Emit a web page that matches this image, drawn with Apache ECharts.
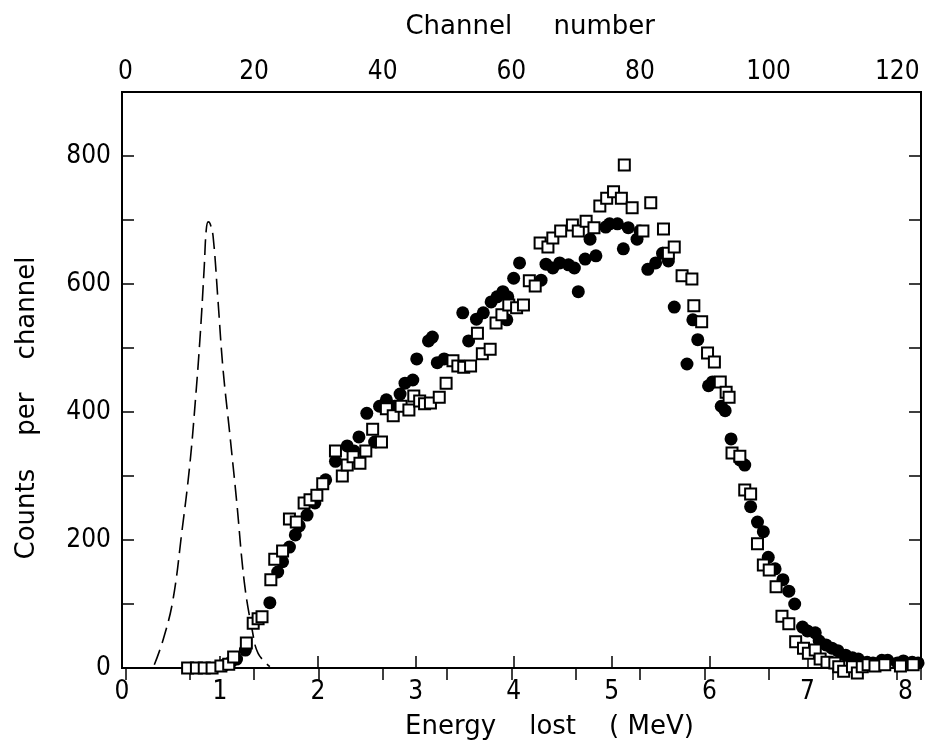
<!DOCTYPE html>
<html><head><meta charset="utf-8">
<script src="https://cdn.jsdelivr.net/npm/echarts@6/dist/echarts.min.js"></script>
<style>html,body{margin:0;padding:0;background:#fff}#c{width:927px;height:747px}</style>
</head><body><div id="c"></div>
<script>
// Filled circles
const filledE = [1.05,1.11,1.17,1.26,1.51,1.59,1.64,1.71,1.77,1.81,1.89,1.97,2.08,2.18,2.30,2.37,2.42,2.50,2.58,2.63,2.70,2.78,2.84,2.89,2.97,3.01,3.13,3.17,3.22,3.29,3.48,3.54,3.62,3.69,3.77,3.83,3.89,3.93,3.94,4.00,4.06,4.28,4.33,4.40,4.47,4.56,4.62,4.66,4.73,4.78,4.84,4.94,4.98,5.06,5.12,5.17,5.26,5.29,5.37,5.45,5.52,5.58,5.64,5.77,5.83,5.88,5.99,6.03,6.12,6.16,6.22,6.31,6.36,6.42,6.49,6.55,6.60,6.67,6.75,6.81,6.87,6.95,7.00,7.08,7.12,7.19,7.25,7.31,7.39,7.46,7.52,7.61,7.67,7.76,7.82,7.92,7.98,8.07,8.13];
const filledC = [5,9,14,28,102,150,166,189,208,222,239,258,294,323,347,339,361,398,353,409,419,409,428,445,450,483,511,517,477,483,555,511,545,555,572,580,588,544,580,609,633,606,631,625,633,630,625,588,639,670,644,689,694,694,655,688,670,683,623,633,648,636,564,475,544,513,441,447,409,402,358,325,317,252,228,213,173,155,138,120,100,64,58,55,42,36,31,27,20,16,14,9,8,12,12,8,11,9,8];
// Open squares
const squareE = [0.67,0.76,0.84,0.92,1.01,1.09,1.14,1.27,1.34,1.39,1.43,1.52,1.56,1.64,1.71,1.78,1.86,1.92,1.99,2.05,2.18,2.25,2.30,2.36,2.43,2.49,2.56,2.65,2.70,2.77,2.85,2.93,2.98,3.04,3.09,3.15,3.24,3.31,3.38,3.43,3.49,3.56,3.63,3.68,3.76,3.82,3.88,3.95,4.03,4.10,4.16,4.22,4.27,4.35,4.40,4.48,4.60,4.66,4.74,4.82,4.88,4.95,5.02,5.10,5.13,5.21,5.32,5.40,5.53,5.58,5.64,5.72,5.82,5.84,5.92,5.98,6.05,6.11,6.17,6.20,6.23,6.31,6.36,6.42,6.49,6.55,6.61,6.68,6.74,6.81,6.88,6.96,7.01,7.08,7.13,7.20,7.28,7.32,7.37,7.46,7.51,7.56,7.62,7.69,7.79,7.95,8.08];
const squareC = [0,0,0,0,3,6,17,39,70,77,80,138,170,183,233,228,258,263,270,288,339,300,317,330,320,339,373,353,405,394,409,403,425,417,413,414,423,445,480,472,470,472,523,491,498,539,552,567,563,567,605,597,664,658,672,683,692,683,698,688,722,734,744,734,786,719,683,727,686,648,658,613,608,566,541,492,478,447,431,423,336,331,278,272,194,161,153,127,81,69,41,31,23,28,14,9,8,2,-5,2,-8,2,5,3,5,3,5];
// Dashed peak curve
const dashE = [0.33,0.42,0.52,0.61,0.69,0.75,0.80,0.84,0.86,0.88,0.90,0.93,0.98,1.03,1.10,1.17,1.25,1.33,1.39,1.51];
const dashC = [5,44,106,211,314,419,523,627,684,697,694,675,575,470,367,262,133,59,23,2];
// Axis titles
const xTitle = 'Energy    lost    ( MeV)';
const yTitle = 'Counts    per    channel';
const topTitle = 'Channel     number';

const zip = (a, b) => a.map((v, i) => [v, b[i]]);
const NUMFONT = '"DejaVu Sans Condensed", "DejaVu Sans", sans-serif';
const TFONT = '"DejaVu Sans", sans-serif';
const chart = echarts.init(document.getElementById('c'), null, {renderer: 'canvas'});
const tickStyle = {show: true, inside: true, length: 12, lineStyle: {color: '#000', width: 1.5}};
const lineStyle = {show: true, lineStyle: {color: '#000', width: 2}};
const numLabel = {color: '#000', fontSize: 26, fontFamily: NUMFONT};
const titleStyle = {color: '#000', fontSize: 26, fontFamily: TFONT};
chart.setOption({
  animation: false,
  backgroundColor: '#fff',
  grid: [
    {left: 122, right: 6, top: 92, bottom: 79, show: true, borderColor: '#000', borderWidth: 2},
    {left: 125.4, right: 6, top: 92, bottom: 79, show: false}
  ],
  xAxis: [
    {type: 'value', gridIndex: 0, min: 0, max: 8.16, interval: 1, position: 'bottom',
     axisLine: lineStyle, axisTick: tickStyle, splitLine: {show: false},
     axisLabel: Object.assign({margin: 11,
       formatter: v => (Math.abs(v - Math.round(v)) < 1e-6 ? String(Math.round(v)) : '')}, numLabel),
     name: xTitle, nameLocation: 'middle', nameGap: 46,
     nameTextStyle: Object.assign({padding: [0, 0, 0, 56]}, titleStyle)},
    {type: 'value', gridIndex: 1, min: 0, max: 123.7, interval: 10, position: 'top',
     axisLine: lineStyle, axisTick: tickStyle, splitLine: {show: false},
     axisLabel: Object.assign({margin: 7,
       formatter: v => (v % 20 === 0 && v <= 120 ? String(v) : '')}, numLabel),
     name: topTitle, nameLocation: 'middle', nameGap: 52,
     nameTextStyle: Object.assign({padding: [0, 0, 0, 14]}, titleStyle)}
  ],
  yAxis: [
    {type: 'value', gridIndex: 0, min: 0, max: 900, interval: 100, position: 'left',
     axisLine: lineStyle, axisTick: tickStyle, splitLine: {show: false},
     axisLabel: Object.assign({margin: 11,
       formatter: v => (v % 200 === 0 && v <= 800 ? String(v) : '')}, numLabel),
     name: yTitle, nameLocation: 'middle', nameGap: 82,
     nameTextStyle: Object.assign({padding: [0, 56, 0, 0]}, titleStyle)},
    {type: 'value', gridIndex: 0, min: 0, max: 900, interval: 100, position: 'right',
     axisLine: lineStyle, axisTick: tickStyle, splitLine: {show: false}, axisLabel: {show: false}},
    {type: 'value', gridIndex: 1, min: 0, max: 900, show: false}
  ],
  series: [
    {type: 'line', xAxisIndex: 0, yAxisIndex: 0, data: zip(dashE, dashC), smooth: 0.4,
     showSymbol: false, symbol: 'none', lineStyle: {color: '#000', width: 1.6, type: [16, 7]}, z: 2},
    {type: 'scatter', xAxisIndex: 0, yAxisIndex: 0, data: zip(filledE, filledC), symbol: 'circle',
     symbolSize: 13, itemStyle: {color: '#000', opacity: 1}, clip: false, z: 3},
    {type: 'scatter', xAxisIndex: 0, yAxisIndex: 0, data: zip(squareE, squareC), symbol: 'rect',
     symbolSize: 11, itemStyle: {color: '#fff', borderColor: '#000', borderWidth: 2, opacity: 1}, clip: false, z: 4}
  ]
});
</script></body></html>
